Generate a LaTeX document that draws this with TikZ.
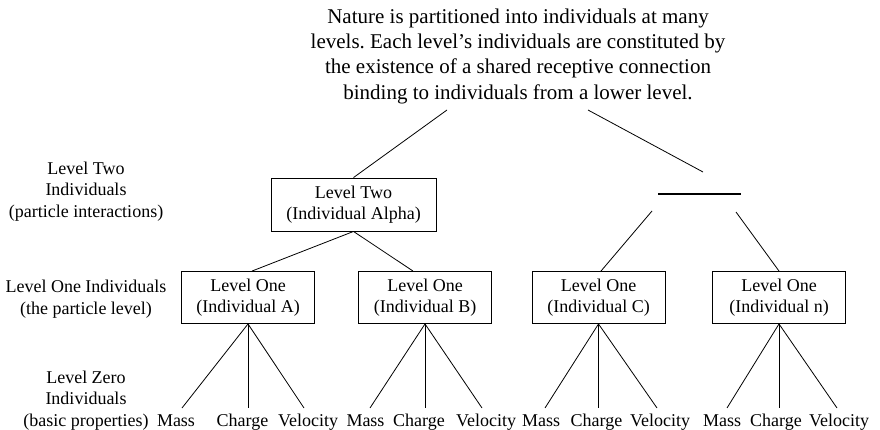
\documentclass[tikz,border=0pt]{standalone}
\usepackage{fontspec}
\setmainfont{Liberation Serif}
\frenchspacing
\begin{document}
\begin{tikzpicture}[x=1pt,y=-1pt,
  lbl/.style={font=\fontsize{18}{21.5}\selectfont, align=center, inner sep=0pt},
  claimtext/.style={font=\fontsize{21}{25.3}\selectfont, align=center, inner sep=0pt},
  indiv/.style={draw, line width=0.9pt, font=\fontsize{18}{21}\selectfont, align=center,
    inner sep=0pt, minimum width=133pt, minimum height=52pt},
  prop/.style={font=\fontsize{18}{21}\selectfont, inner sep=0pt, outer ysep=6pt,
    text height=12pt, text depth=4pt, anchor=base},
  link/.style={line width=0.8pt},
  barline/.style={line width=2.4pt}]
\useasboundingbox (0,0) rectangle (880,430);

% statement at the top
\node[claimtext] (claim) at (518,56.2)
  {Nature is partitioned into individuals at many\\
   levels. Each level’s individuals are constituted by\\
   the existence of a shared receptive connection\\
   binding to individuals from a lower level.};

% level labels on the left
\node[lbl] (lvl2) at (86,191.3) {Level Two\\Individuals\\(particle interactions)};
\node[lbl] (lvl1) at (86,299.3) {Level One Individuals\\(the particle level)};
\node[lbl] (lvl0) at (86,400.3) {Level Zero\\Individuals\\(basic properties)};

% level two individual
\node[indiv, minimum width=165pt, minimum height=53pt] (alpha) at (353.5,204.5)
  {Level Two\\(Individual Alpha)};

% level one individuals
\node[indiv] (A) at (248,297.5) {Level One\\(Individual A)};
\node[indiv] (B) at (425,297.5) {Level One\\(Individual B)};
\node[indiv] (C) at (598.5,297.5) {Level One\\(Individual C)};
\node[indiv] (n) at (779,297.5) {Level One\\(Individual n)};

% unnamed level two individual, shown as a bar
\coordinate (barL) at (658,194);
\coordinate (barR) at (741,194);
\draw[barline] (barL) -- (barR);
\coordinate (barCl) at (652,211);
\coordinate (barCr) at (736,212);
\draw[link] (barCl) -- ([xshift=2.5pt]C.north);
\draw[link] (barCr) -- (n.north);

% branches from the statement
\coordinate (claimL) at (447,110);
\coordinate (claimR) at (588,110);
\coordinate (openEnd) at (703,172);
\draw[link] (claimL) -- (alpha.north);
\draw[link] (claimR) -- (openEnd);

% level two to level one
\draw[link] (alpha.south) -- ([xshift=4pt]A.north);
\draw[link] (alpha.south) -- ([xshift=-12pt]B.north);

% level zero properties
\foreach \b/\mx/\cx/\vx/\ms/\vs in
  {A/176/242.5/308/6/-4, B/365.5/419/486/4.5/-4, C/541/596.5/660/4/-3, n/722/776/839/5/-2} {
  \node[prop] (m\b) at (\mx,426) {Mass};
  \node[prop] (c\b) at (\cx,426) {Charge};
  \node[prop] (v\b) at (\vx,426) {Velocity};
  \draw[link] (\b.south) -- ([xshift=\ms pt]m\b.north);
  \draw[link] (\b.south) -- (\b.south |- c\b.north);
  \draw[link] (\b.south) -- ([xshift=\vs pt]v\b.north);
}
\end{tikzpicture}
\end{document}
